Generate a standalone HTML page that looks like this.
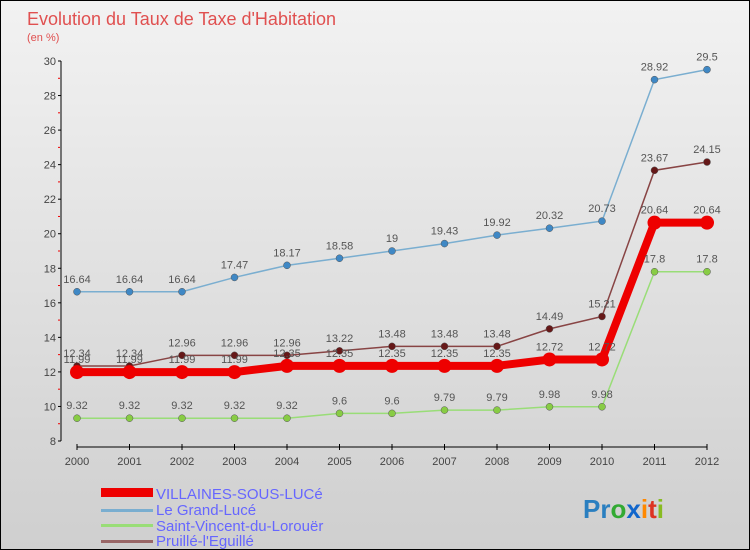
<!DOCTYPE html>
<html><head><meta charset="utf-8"><style>
body{margin:0}
#wrap{width:750px;height:550px;position:relative;background:linear-gradient(#f2f2f2,#cfcfcf);box-sizing:border-box;border:1px solid #000;font-family:"Liberation Sans",sans-serif;overflow:hidden}
svg text{font-family:"Liberation Sans",sans-serif}
</style></head><body>
<div id="wrap">
<svg id="c" width="750" height="550">
<text x="26" y="24" font-size="18" fill="#e05050">Evolution du Taux de Taxe d'Habitation</text>
<text x="26" y="40" font-size="11" fill="#e05050">(en %)</text>
<g id="grid"></g><g id="axes"></g><g id="series"></g><g id="labels"></g>
<g>
<rect x="100" y="487" width="52" height="9" fill="#ee0000"/>
<text x="155" y="498" font-size="15" fill="#6666ff">VILLAINES-SOUS-LUCé</text>
<rect x="100" y="508" width="52" height="3" fill="#7aaed0"/>
<text x="155" y="514" font-size="15" fill="#6666ff">Le Grand-Lucé</text>
<rect x="100" y="523" width="52" height="3" fill="#99dd77"/>
<text x="155" y="530" font-size="15" fill="#6666ff">Saint-Vincent-du-Lorouër</text>
<rect x="100" y="539" width="52" height="3" fill="#996666"/>
<text x="155" y="545" font-size="15" fill="#6666ff">Pruillé-l'Eguillé</text>
</g>
<g font-size="26" font-weight="bold">
<text x="582" y="517"><tspan fill="#2a7fc0">Pr</tspan><tspan fill="#33aa33">o</tspan><tspan fill="#1166cc">x</tspan><tspan fill="#ff8800">i</tspan><tspan fill="#dd3322">t</tspan><tspan fill="#88bb22">i</tspan></text>
</g>
</svg>
</div>
<script>
const years=[2000,2001,2002,2003,2004,2005,2006,2007,2008,2009,2010,2011,2012];
const yTicks=[8,10,12,14,16,18,20,22,24,26,28,30];
const villaines=[11.99,11.99,11.99,11.99,12.35,12.35,12.35,12.35,12.35,12.72,12.72,20.64,20.64];
const grandLuce=[16.64,16.64,16.64,17.47,18.17,18.58,19,19.43,19.92,20.32,20.73,28.92,29.5];
const saintVincent=[9.32,9.32,9.32,9.32,9.32,9.6,9.6,9.79,9.79,9.98,9.98,17.8,17.8];
const pruille=[12.34,12.34,12.96,12.96,12.96,13.22,13.48,13.48,13.48,14.49,15.21,23.67,24.15];
const NS="http://www.w3.org/2000/svg";
const x0=76,x1=706,yb=440,yt=60,vmin=8,vmax=30;
const xs=i=>x0+(x1-x0)*i/(years.length-1);
const ys=v=>yb-(v-vmin)/(vmax-vmin)*(yb-yt);
function mk(t,a,p){const e=document.createElementNS(NS,t);for(const k in a)e.setAttribute(k,a[k]);p.appendChild(e);return e;}
const axes=document.getElementById('axes');
let l=mk('line',{x1:x0-16,y1:yt,x2:x0-16,y2:yb,stroke:'#000'},axes);

l=mk('line',{x1:x0,y1:yb+6,x2:x1,y2:yb+6,stroke:'#000'},axes);

yTicks.forEach(v=>{
 mk('line',{x1:x0-19,y1:ys(v),x2:x0-16,y2:ys(v),stroke:'#000'},axes);
 if(v<vmax) mk('line',{x1:x0-19,y1:ys(v+1),x2:x0-17,y2:ys(v+1),stroke:'#e00'},axes);
 const t=mk('text',{x:x0-21,y:ys(v)+4,'font-size':11,fill:'#444','text-anchor':'end'},axes);t.textContent=v;
 
});
years.forEach((y,i)=>{
 mk('line',{x1:xs(i),y1:yb+3,x2:xs(i),y2:yb+9,stroke:'#000'},axes);
 const t=mk('text',{x:xs(i),y:yb+24,'font-size':11,fill:'#444','text-anchor':'middle'},axes);t.textContent=y;
 
});
const S=document.getElementById('series'),L=document.getElementById('labels');
function draw(data,name,color,dot,w,r){
 const p=mk('polyline',{points:data.map((v,i)=>xs(i)+','+ys(v)).join(' '),fill:'none',stroke:color,'stroke-width':w},S);
 
 data.forEach((v,i)=>{
  const c=mk('circle',{cx:xs(i),cy:ys(v),r:r,fill:dot,stroke:'#555','stroke-width':r>5?0:0.5},S);
  
  const t=mk('text',{x:xs(i),y:ys(v)-9,'font-size':11,fill:'#555','text-anchor':'middle'},L);t.textContent=v;
  
 });
}
draw(saintVincent,'saint-vincent','#99dd77','#88cc44',1.5,3.5);
draw(grandLuce,'grand-luce','#7aaed0','#3f88c5',1.5,3.5);
draw(pruille,'pruille','#884444','#661818',1.5,3.5);
draw(villaines,'villaines','#ee0000','#ee0000',8,7);
</script>
</body></html>
